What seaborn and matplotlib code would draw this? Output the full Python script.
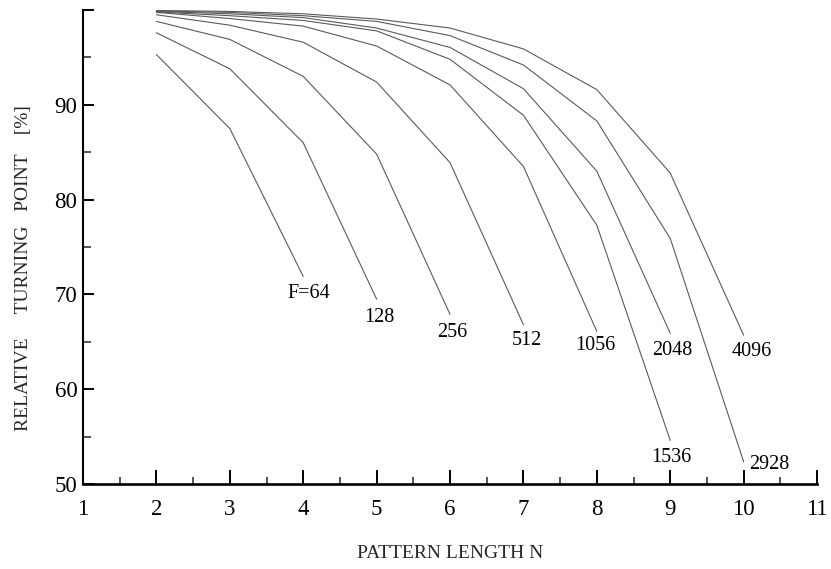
import numpy as np
import pandas as pd
import matplotlib
matplotlib.use("Agg")
import matplotlib.pyplot as plt
import seaborn as sns

# ---- data ----
F_labels = ["F=64", "128", "256", "512", "1056", "1536", "2048", "2928", "4096"]
N_64 = [2, 3, 4]
Y_64 = [95.3, 87.5, 71.9]
N_128 = [2, 3, 4, 5]
Y_128 = [97.6, 93.8, 86.0, 69.5]
N_256 = [2, 3, 4, 5, 6]
Y_256 = [98.8, 96.9, 93.0, 84.8, 67.9]
N_512 = [2, 3, 4, 5, 6, 7]
Y_512 = [99.5, 98.4, 96.6, 92.4, 83.9, 66.8]
N_1056 = [2, 3, 4, 5, 6, 7, 8]
Y_1056 = [99.75, 99.1, 98.3, 96.2, 92.1, 83.5, 66.1]
N_1536 = [2, 3, 4, 5, 6, 7, 8, 9]
Y_1536 = [99.8, 99.4, 98.9, 97.8, 94.8, 88.9, 77.3, 54.6]
N_2048 = [2, 3, 4, 5, 6, 7, 8, 9]
Y_2048 = [99.85, 99.6, 99.2, 98.1, 96.05, 91.7, 83.0, 65.9]
N_2928 = [2, 3, 4, 5, 6, 7, 8, 9, 10]
Y_2928 = [99.9, 99.75, 99.4, 98.8, 97.3, 94.2, 88.3, 75.9, 52.35]
N_4096 = [2, 3, 4, 5, 6, 7, 8, 9, 10]
Y_4096 = [99.95, 99.85, 99.6, 99.05, 98.1, 95.9, 91.6, 82.8, 65.7]

series_N = [N_64, N_128, N_256, N_512, N_1056, N_1536, N_2048, N_2928, N_4096]
series_Y = [Y_64, Y_128, Y_256, Y_512, Y_1056, Y_1536, Y_2048, Y_2928, Y_4096]

x_ticks = [1, 2, 3, 4, 5, 6, 7, 8, 9, 10, 11]
y_ticks = [50, 60, 70, 80, 90, 100]
y_ticklabels = ["50", "60", "70", "80", "90", ""]

rows = []
for lab, ns, ys in zip(F_labels, series_N, series_Y):
    for n, y in zip(ns, ys):
        rows.append({"F": lab, "N": n, "Y": y})
df = pd.DataFrame(rows)

# ---- styling ----
sns.set_style("ticks")
plt.rcParams["font.family"] = ["Liberation Serif", "DejaVu Serif"]

fig = plt.figure(figsize=(8.31, 5.69), dpi=100)
ax = fig.add_axes([0.0999, 0.1494, 0.8833, 0.833])

sns.lineplot(data=df, x="N", y="Y", hue="F", hue_order=F_labels,
             palette=["#5a5a5a"] * len(F_labels), linewidth=0.8,
             legend=False, ax=ax, sort=False)

# label offsets (pixels) from each line's last point
offsets = [(6, -17), (3, -18), (2, -18), (3, -16), (-1, -14),
           (1, -17.5), (2, -17), (26, -3), (8, -16)]
for lab, ns, ys, off in zip(F_labels, series_N, series_Y, offsets):
    ax.annotate(lab, xy=(ns[-1], ys[-1]), xytext=off, textcoords="offset pixels",
                ha="center", va="center", fontsize=14.5, color="black")

ax.set_xlim(1, 11)
ax.set_ylim(50, 100)
ax.set_xticks(x_ticks)
ax.set_xticklabels([str(v) for v in x_ticks])
ax.set_xticks(np.arange(1.5, 11, 1.0), minor=True)
ax.set_yticks(y_ticks)
ax.set_yticklabels(y_ticklabels)
ax.set_yticks([55, 65, 75, 85, 95], minor=True)

ax.tick_params(axis="x", which="major", direction="in", length=10, width=1.4,
               labelsize=16.5, pad=11, colors="black")
ax.tick_params(axis="x", which="minor", direction="in", length=5, width=1.1)
ax.tick_params(axis="y", which="major", direction="in", length=8, width=1.4,
               labelsize=16.5, pad=4, colors="black")
ax.tick_params(axis="y", which="minor", direction="in", length=6, width=1.1)

for s in ["top", "right"]:
    ax.spines[s].set_visible(False)
ax.spines["left"].set_linewidth(1.5)
ax.spines["bottom"].set_linewidth(1.9)
ax.spines["left"].set_color("black")
ax.spines["bottom"].set_color("black")

ax.set_xlabel("PATTERN LENGTH N", fontsize=14, labelpad=18)
ax.set_ylabel("RELATIVE     TURNING   POINT    [%]", fontsize=14)
ax.yaxis.set_label_coords(-0.069, 0.455)

fig.savefig("out.png", dpi=100)
